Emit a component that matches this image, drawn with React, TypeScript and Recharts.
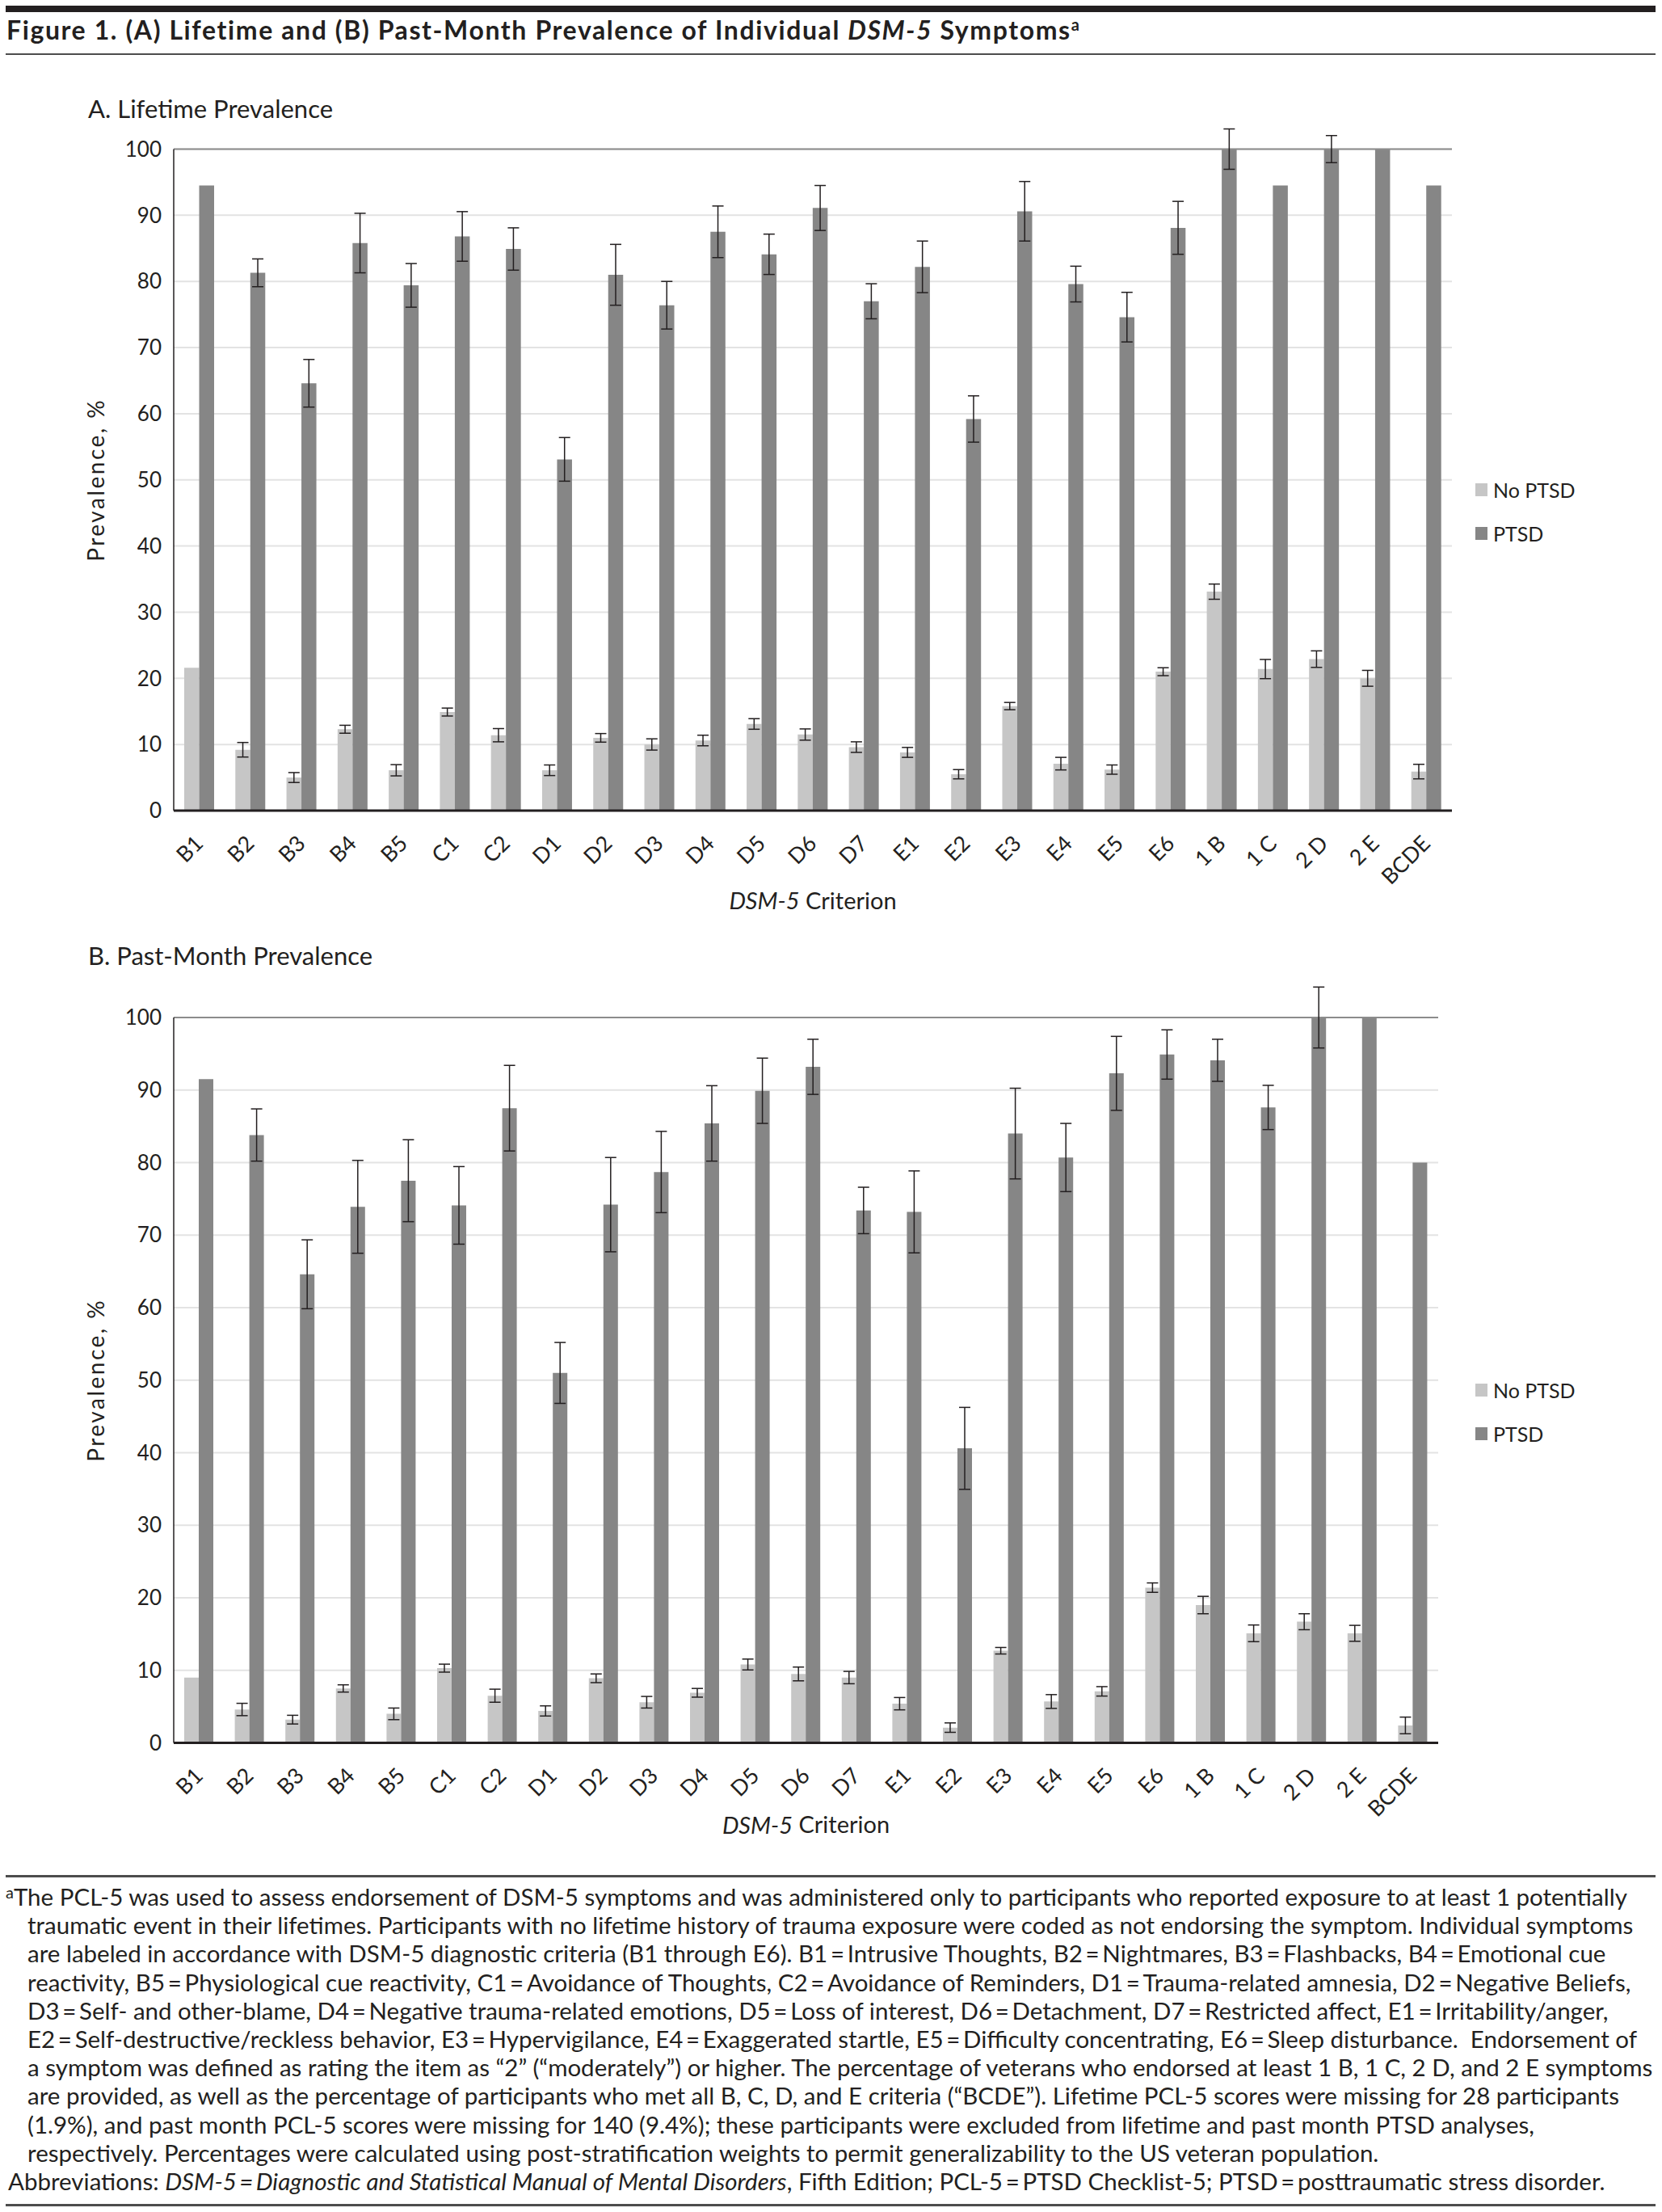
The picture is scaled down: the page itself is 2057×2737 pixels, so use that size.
import React from "react";
import {
  Bar,
  BarChart,
  CartesianGrid,
  ErrorBar,
  Legend,
  ReferenceLine,
  XAxis,
  YAxis,
} from "recharts";

const criteria = [
  "B1", "B2", "B3", "B4", "B5", "C1", "C2", "D1", "D2", "D3", "D4", "D5", "D6",
  "D7", "E1", "E2", "E3", "E4", "E5", "E6", "1 B", "1 C", "2 D", "2 E", "BCDE",
];

// A. lifetime prevalence (%), with half-width of the error bars
const lifetimeNoPtsd = [21.6, 9.2, 5.0, 12.3, 6.1, 14.9, 11.4, 6.1, 11.0, 10.0, 10.6, 13.1, 11.5, 9.6, 8.8, 5.5, 15.8, 7.1, 6.2, 21.0, 33.1, 21.4, 22.9, 20.0, 5.9];
const lifetimeNoPtsdErr = [0, 1.1, 0.75, 0.6, 0.85, 0.6, 1.0, 0.8, 0.65, 0.85, 0.8, 0.8, 0.85, 0.8, 0.75, 0.7, 0.55, 0.95, 0.7, 0.6, 1.15, 1.45, 1.25, 1.2, 1.1];
const lifetimePtsd = [94.5, 81.3, 64.6, 85.8, 79.4, 86.8, 84.9, 53.1, 81.0, 76.4, 87.5, 84.1, 91.1, 77.0, 82.2, 59.2, 90.6, 79.6, 74.6, 88.1, 100, 94.5, 100, 100, 94.5];
const lifetimePtsdErr = [0, 2.1, 3.6, 4.5, 3.3, 3.75, 3.2, 3.3, 4.6, 3.6, 3.9, 3.05, 3.4, 2.65, 3.9, 3.5, 4.5, 2.7, 3.75, 4.0, 3.05, 0, 2.05, 0, 0];

// B. past-month prevalence (%)
const pastMonthNoPtsd = [9.0, 4.6, 3.2, 7.5, 4.0, 10.3, 6.5, 4.4, 8.9, 5.6, 6.9, 10.8, 9.5, 9.0, 5.4, 2.1, 12.7, 5.7, 7.1, 21.4, 19.0, 15.1, 16.7, 15.1, 2.4];
const pastMonthNoPtsdErr = [0, 0.85, 0.6, 0.5, 0.8, 0.55, 0.9, 0.7, 0.6, 0.8, 0.6, 0.75, 0.95, 0.85, 0.85, 0.65, 0.45, 0.95, 0.65, 0.65, 1.2, 1.15, 1.1, 1.1, 1.15];
const pastMonthPtsd = [91.5, 83.8, 64.6, 73.9, 77.5, 74.1, 87.5, 51.0, 74.2, 78.7, 85.4, 89.9, 93.2, 73.4, 73.2, 40.6, 84.0, 80.7, 92.3, 94.9, 94.1, 87.6, 100, 100, 80.0];
const pastMonthPtsdErr = [0, 3.6, 4.75, 6.4, 5.65, 5.35, 5.9, 4.2, 6.5, 5.6, 5.2, 4.5, 3.8, 3.2, 5.65, 5.65, 6.25, 4.7, 5.1, 3.4, 2.9, 3.05, 4.2, 0, 0];

const yTicks = [0, 10, 20, 30, 40, 50, 60, 70, 80, 90, 100];

const footnoteLines = [
  "The PCL-5 was used to assess endorsement of DSM-5 symptoms and was administered only to participants who reported exposure to at least 1 potentially",
  "traumatic event in their lifetimes. Participants with no lifetime history of trauma exposure were coded as not endorsing the symptom. Individual symptoms",
  "are labeled in accordance with DSM-5 diagnostic criteria (B1 through E6). B1\u2009=\u2009Intrusive Thoughts, B2\u2009=\u2009Nightmares, B3\u2009=\u2009Flashbacks, B4\u2009=\u2009Emotional cue",
  "reactivity, B5\u2009=\u2009Physiological cue reactivity, C1\u2009=\u2009Avoidance of Thoughts, C2\u2009=\u2009Avoidance of Reminders, D1\u2009=\u2009Trauma-related amnesia, D2\u2009=\u2009Negative Beliefs,",
  "D3\u2009=\u2009Self- and other-blame, D4\u2009=\u2009Negative trauma-related emotions, D5\u2009=\u2009Loss of interest, D6\u2009=\u2009Detachment, D7\u2009=\u2009Restricted affect, E1\u2009=\u2009Irritability/anger,",
  "E2\u2009=\u2009Self-destructive/reckless behavior, E3\u2009=\u2009Hypervigilance, E4\u2009=\u2009Exaggerated startle, E5\u2009=\u2009Difficulty concentrating, E6\u2009=\u2009Sleep disturbance.\u00a0 Endorsement of",
  "a symptom was defined as rating the item as \u201c2\u201d (\u201cmoderately\u201d) or higher. The percentage of veterans who endorsed at least 1 B, 1 C, 2 D, and 2 E symptoms",
  "are provided, as well as the percentage of participants who met all B, C, D, and E criteria (\u201cBCDE\u201d). Lifetime PCL-5 scores were missing for 28 participants",
  "(1.9%), and past month PCL-5 scores were missing for 140 (9.4%); these participants were excluded from lifetime and past month PTSD analyses,",
  "respectively. Percentages were calculated using post-stratification weights to permit generalizability to the US veteran population.",
];

const ink = "#231f20";
const lightBar = "#c6c6c6";
const darkBar = "#868686";
const font = "Lato, 'Open Sans', sans-serif";

type Row = {
  criterion: string;
  noPtsd: number;
  noPtsdErr: number;
  ptsd: number;
  ptsdErr: number;
};

function buildRows(noPtsd: number[], noPtsdErr: number[], ptsd: number[], ptsdErr: number[]): Row[] {
  return criteria.map((criterion, i) => ({
    criterion,
    noPtsd: noPtsd[i],
    noPtsdErr: noPtsdErr[i],
    ptsd: ptsd[i],
    ptsdErr: ptsdErr[i],
  }));
}

const lifetimeRows = buildRows(lifetimeNoPtsd, lifetimeNoPtsdErr, lifetimePtsd, lifetimePtsdErr);
const pastMonthRows = buildRows(pastMonthNoPtsd, pastMonthNoPtsdErr, pastMonthPtsd, pastMonthPtsdErr);

function CriterionTick({ x, y, payload }: any) {
  return (
    <text
      transform={`translate(${x - 1},${y + 35}) rotate(-45)`}
      textAnchor="end"
      dominantBaseline="central"
      fontSize={27}
      fill={ink}
    >
      {payload.value}
    </text>
  );
}

function CriterionLabel(props: any) {
  const vb = props.viewBox ?? props;
  return (
    <text
      x={vb.x + vb.width / 2}
      y={vb.y + props.gap}
      textAnchor="middle"
      dominantBaseline="central"
      fontSize={29}
      fill={ink}
    >
      <tspan fontStyle="italic">DSM-5</tspan> Criterion
    </text>
  );
}

function PrevalenceLabel(props: any) {
  const vb = props.viewBox ?? props;
  const cx = vb.x + vb.width - 97;
  const cy = vb.y + vb.height / 2;
  return (
    <text
      x={cx}
      y={cy}
      transform={`rotate(-90, ${cx}, ${cy})`}
      textAnchor="middle"
      dominantBaseline="central"
      fontSize={28}
      letterSpacing={2.5}
      fill={ink}
    >
      Prevalence, %
    </text>
  );
}

function SeriesKey({ payload }: any) {
  return (
    <div style={{ fontSize: 25, color: ink, fontFamily: font }}>
      {(payload ?? []).map((entry: any) => (
        <div key={entry.value} style={{ display: "flex", alignItems: "center", height: 54 }}>
          <span
            style={{
              display: "inline-block",
              width: 15,
              height: 16,
              background: entry.color,
              marginRight: 7,
            }}
          />
          {entry.value}
        </div>
      ))}
    </div>
  );
}

type PanelProps = {
  rows: Row[];
  top: number;
  height: number;
  margin: { top: number; right: number; bottom: number; left: number };
  barSize: number;
  legendTop: number;
  labelGap: number;
};

function PrevalencePanel({ rows, top, height, margin, barSize, legendTop, labelGap }: PanelProps) {
  return (
    <div style={{ position: "absolute", left: 0, top }}>
      <BarChart width={2057} height={height} data={rows} margin={margin} barGap={0} barSize={barSize}>
        <CartesianGrid vertical={false} stroke="#e3e3e3" strokeWidth={2} />
        <XAxis
          dataKey="criterion"
          interval={0}
          height={100}
          tickSize={0}
          tickMargin={0}
          tickLine={false}
          axisLine={{ stroke: ink, strokeWidth: 3 }}
          tick={<CriterionTick />}
          label={<CriterionLabel gap={labelGap} />}
        />
        <YAxis
          width={215}
          domain={[0, 100]}
          allowDataOverflow
          ticks={yTicks}
          tickSize={0}
          tickMargin={15}
          tickLine={false}
          axisLine={{ stroke: ink, strokeWidth: 1.5 }}
          tick={{ fontSize: 26, fill: ink }}
          label={<PrevalenceLabel />}
        />
        <ReferenceLine y={100} stroke="#8c8c8c" strokeWidth={2} />
        <Legend
          layout="vertical"
          align="center"
          verticalAlign="middle"
          wrapperStyle={{ left: 1826, top: legendTop }}
          content={<SeriesKey />}
        />
        <Bar dataKey="noPtsd" name="No PTSD" fill={lightBar} isAnimationActive={false}>
          <ErrorBar dataKey="noPtsdErr" width={7} stroke={ink} strokeWidth={1.5} isAnimationActive={false} />
        </Bar>
        <Bar dataKey="ptsd" name="PTSD" fill={darkBar} isAnimationActive={false}>
          <ErrorBar dataKey="ptsdErr" width={7} stroke={ink} strokeWidth={1.5} isAnimationActive={false} />
        </Bar>
      </BarChart>
    </div>
  );
}

function Rule({ top, height, color }: { top: number; height: number; color: string }) {
  return <div style={{ position: "absolute", left: 7, top, width: 2042, height, background: color }} />;
}

export default function App() {
  return (
    <div
      style={{
        position: "absolute",
        left: 0,
        top: 0,
        width: 2057,
        height: 2737,
        background: "#fff",
        overflow: "hidden",
        fontFamily: font,
        color: ink,
      }}
    >
      <Rule top={7} height={8} color={ink} />
      <div
        style={{
          position: "absolute",
          left: 8,
          top: 18,
          fontSize: 32,
          lineHeight: "38.4px",
          fontWeight: 700,
          letterSpacing: 1.6,
          whiteSpace: "nowrap",
        }}
      >
        Figure 1. (A) Lifetime and (B) Past-Month Prevalence of Individual <i>DSM-5</i> Symptoms
        <sup style={{ fontSize: 20, verticalAlign: "11px", lineHeight: 0 }}>a</sup>
      </div>
      <Rule top={66} height={2} color="#4d4d4d" />

      <div style={{ position: "absolute", left: 109, top: 116, fontSize: 31, lineHeight: "37.2px", whiteSpace: "nowrap" }}>
        A. Lifetime Prevalence
      </div>
      <PrevalencePanel
        rows={lifetimeRows}
        top={150}
        height={1000}
        margin={{ top: 34.5, right: 260, bottom: 47, left: 0 }}
        barSize={18.5}
        legendTop={429}
        labelGap={110}
      />

      <div style={{ position: "absolute", left: 109, top: 1164, fontSize: 31, lineHeight: "37.2px", whiteSpace: "nowrap" }}>
        B. Past-Month Prevalence
      </div>
      <PrevalencePanel
        rows={pastMonthRows}
        top={1220}
        height={1085}
        margin={{ top: 39, right: 277, bottom: 48.5, left: 0 }}
        barSize={18}
        legendTop={473}
        labelGap={100}
      />

      <Rule top={2320} height={3} color="#4d4d4d" />
      <div style={{ position: "absolute", left: 7, top: 2329, fontSize: 29.5, lineHeight: "35.2px", whiteSpace: "nowrap" }}>
        {footnoteLines.map((line, i) => (
          <div key={i} style={{ paddingLeft: i === 0 ? 0 : 27 }}>
            {i === 0 && <sup style={{ fontSize: 20, lineHeight: 0, verticalAlign: "9px" }}>a</sup>}
            {line}
          </div>
        ))}
        <div style={{ marginLeft: 3 }}>
          Abbreviations: <i>DSM-5{"\u2009=\u2009"}Diagnostic and Statistical Manual of Mental Disorders</i>, Fifth Edition;
          PCL-5{"\u2009=\u2009"}PTSD Checklist-5; PTSD{"\u2009=\u2009"}posttraumatic stress disorder.
        </div>
      </div>
      <Rule top={2727} height={3} color="#4d4d4d" />
    </div>
  );
}
